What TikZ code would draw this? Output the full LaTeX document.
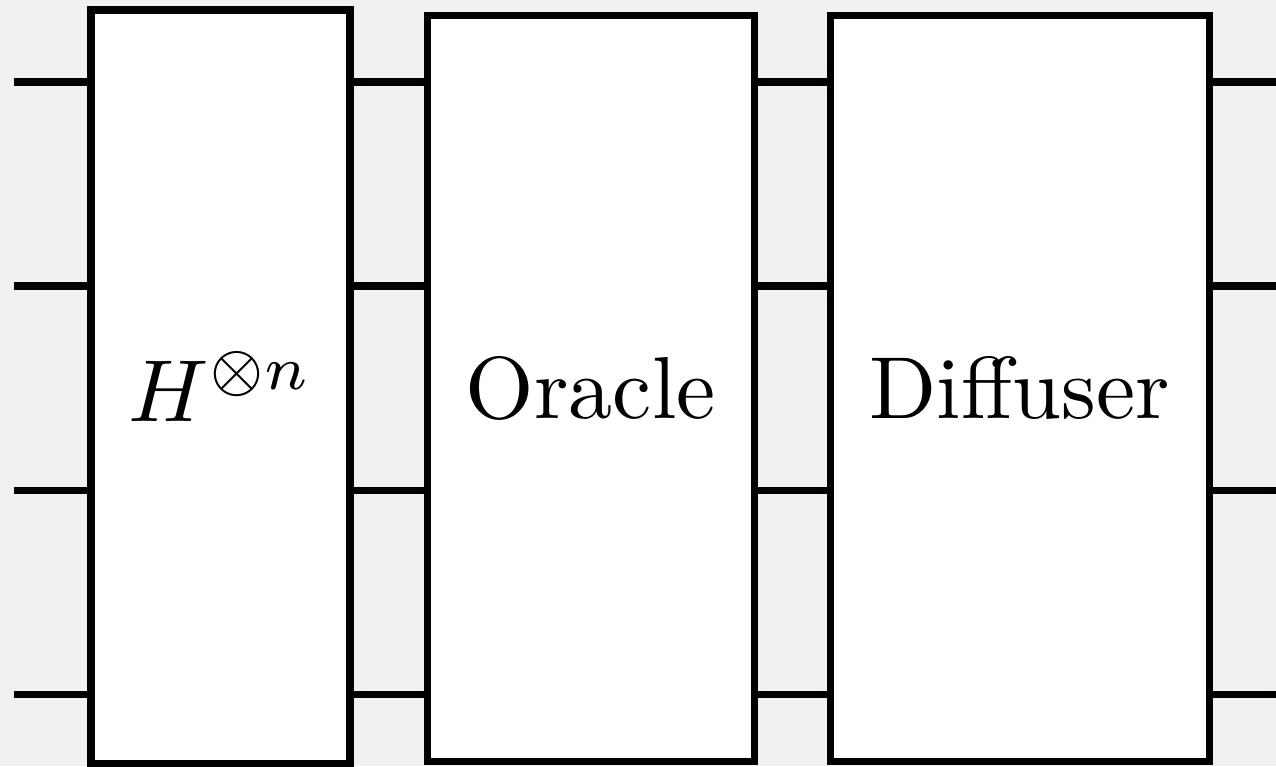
\documentclass[tikz,border=0pt]{standalone}
\usepackage{amsmath}
\usetikzlibrary{positioning}
\definecolor{paper}{HTML}{F0F2F1}
\definecolor{ink}{HTML}{000000}

% one drawing unit = one pixel of the final image
\newdimen\unitpx
\unitpx=0.11364pt

\begin{document}
\begin{tikzpicture}[
  x=\unitpx,y=-\unitpx,
  line join=miter,
  gate/.style={draw=ink,fill=white,line width=.8pt,inner sep=0pt},
  wire/.style={draw=ink,line width=.8pt}
]

% page and backdrop
\fill[paper] (0,0) rectangle (1276,766);
\useasboundingbox (0,0) rectangle (1276,766);

% Grover iteration: three gate blocks
\node[gate,minimum width={259*\unitpx},minimum height={753*\unitpx}]
  (hadamard) at (220.5,386.5) {$H^{\otimes n}$};
\node[gate,minimum width={326.5*\unitpx},minimum height={745.5*\unitpx}]
  (oracle) at (590.75,388.25) {Oracle};
\node[gate,minimum width={378.5*\unitpx},minimum height={745.5*\unitpx}]
  (diffuser) at (1019.75,388.25) {Diffuser};

% qubit wires between the blocks
\foreach \y [count=\i] in {82,286,490,694}{
  \coordinate (in\i) at (14,\y);
  \coordinate (out\i) at (1276,\y);
  \draw[wire] (in\i) -- (in\i -| hadamard.west)
    (in\i -| hadamard.east) -- (in\i -| oracle.west)
    (in\i -| oracle.east) -- (in\i -| diffuser.west)
    (in\i -| diffuser.east) -- (out\i);
}

\end{tikzpicture}
\end{document}
